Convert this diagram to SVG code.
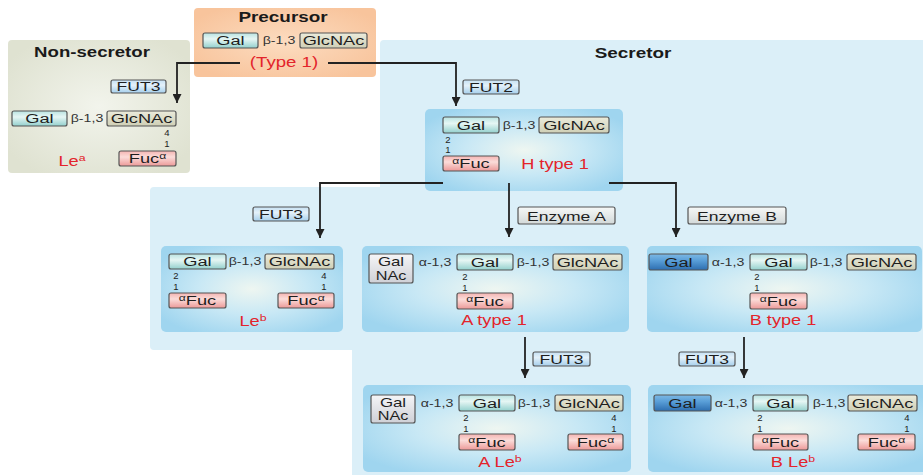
<svg xmlns="http://www.w3.org/2000/svg" width="923" height="475" viewBox="0 0 923 475">
<style>
text{font-family:"Liberation Sans",Arial,Helvetica,sans-serif}
.sn{font-size:13.5px;fill:#1e1e1e;text-anchor:middle}
.nc{font-size:12.5px;fill:#1e1e1e;text-anchor:middle}
.ln{font-size:10.5px;fill:#333;text-anchor:middle}
.num{font-size:9.5px;fill:#222;text-anchor:middle}
.red{font-size:14px;fill:#e3242b;text-anchor:middle}
.ttl{font-size:14px;font-weight:bold;fill:#1a1a1a;text-anchor:middle}
.box{stroke:#555;stroke-width:1.2}
.gal{fill:url(#gGal)}
.glc{fill:url(#gGlc)}
.fuc{fill:url(#gFuc)}
.fut{fill:url(#gFut)}
.enz{fill:url(#gEnz)}
.nac{fill:url(#gNac)}
.dk{fill:url(#gDark)}
.inner{fill:url(#gInner)}
.conn{fill:none;stroke:#222;stroke-width:1.8}
</style>
<defs>
<linearGradient id="gGal" x1="0" y1="0" x2="0" y2="1"><stop offset="0" stop-color="#b9e3e1"/><stop offset="0.4" stop-color="#e6f6f4"/><stop offset="1" stop-color="#93d0cd"/></linearGradient>
<linearGradient id="gGlc" x1="0" y1="0" x2="0" y2="1"><stop offset="0" stop-color="#ebebdb"/><stop offset="1" stop-color="#cfcfb6"/></linearGradient>
<linearGradient id="gFuc" x1="0" y1="0" x2="0" y2="1"><stop offset="0" stop-color="#f4b4b2"/><stop offset="0.4" stop-color="#fbdcd9"/><stop offset="1" stop-color="#ec9998"/></linearGradient>
<linearGradient id="gFut" x1="0" y1="0" x2="0" y2="1"><stop offset="0" stop-color="#c5e0f3"/><stop offset="0.4" stop-color="#e4f1fa"/><stop offset="1" stop-color="#a6cfec"/></linearGradient>
<linearGradient id="gEnz" x1="0" y1="0" x2="0" y2="1"><stop offset="0" stop-color="#f6f8f7"/><stop offset="1" stop-color="#d3d9d9"/></linearGradient>
<linearGradient id="gNac" x1="0" y1="0" x2="0" y2="1"><stop offset="0" stop-color="#f5f5f7"/><stop offset="1" stop-color="#cfd0d6"/></linearGradient>
<linearGradient id="gDark" x1="0" y1="0" x2="0" y2="1"><stop offset="0" stop-color="#7cb8e4"/><stop offset="0.4" stop-color="#5a9fd8"/><stop offset="1" stop-color="#2d6eb0"/></linearGradient>
<radialGradient id="gInner" cx="0.5" cy="0.5" r="0.6"><stop offset="0" stop-color="#eef6f1"/><stop offset="0.5" stop-color="#c8e8f5"/><stop offset="1" stop-color="#9fd5ef"/></radialGradient>
<radialGradient id="gNon" cx="0.5" cy="0.5" r="0.6"><stop offset="0" stop-color="#f2f4ec"/><stop offset="1" stop-color="#dfe2d1"/></radialGradient>
<radialGradient id="gPre" cx="0.5" cy="0.5" r="0.6"><stop offset="0" stop-color="#fcdcc0"/><stop offset="1" stop-color="#f8c49c"/></radialGradient>
<marker id="ah" viewBox="0 0 10 10" refX="10" refY="5" markerWidth="9" markerHeight="9" markerUnits="userSpaceOnUse" orient="auto"><path d="M0,0 L10,5 L0,10 z" fill="#222"/></marker>
</defs>

<g id="backgrounds">
<rect x="8" y="40" width="182" height="133" rx="4" fill="url(#gNon)"/>
<path d="M384,40 H923 V475 H352 V350 H154 Q150,350 150,346 V191 Q150,187 154,187 H380 V44 Q380,40 384,40 Z" fill="#dbeff8"/>
<rect x="194" y="8" width="182" height="69" rx="4" fill="url(#gPre)"/>
</g>

<g id="precursor">
<text class="ttl" transform="translate(283,22) scale(1.35,1)">Precursor</text>
<rect class="box gal" x="203" y="33" width="55" height="15" rx="2"/>
<text class="sn" transform="translate(230.5,45) scale(1.35,1)">Gal</text>
<text class="ln" transform="translate(279,44) scale(1.35,1)">β-1,3</text>
<rect class="box glc" x="300" y="33" width="67" height="15" rx="2"/>
<text class="sn" transform="translate(333.5,45) scale(1.35,1)">GlcNAc</text>
<text class="red" transform="translate(284,67) scale(1.33,1)">(Type 1)</text>
</g>

<g id="non-secretor">
<text class="ttl" transform="translate(92,57) scale(1.33,1)">Non-secretor</text>
<rect class="box gal" x="12" y="111" width="55" height="15" rx="2"/>
<text class="sn" transform="translate(39.5,123) scale(1.35,1)">Gal</text>
<text class="ln" transform="translate(87,122) scale(1.35,1)">β-1,3</text>
<rect class="box glc" x="107" y="111" width="69" height="15" rx="2"/>
<text class="sn" transform="translate(141.5,123) scale(1.35,1)">GlcNAc</text>
<text class="num" x="167" y="136">4</text>
<text class="num" x="167" y="146.5">1</text>
<rect class="box fuc" x="119" y="151" width="57" height="15" rx="2"/>
<text class="sn" transform="translate(147.5,163) scale(1.35,1)">Fuc<tspan font-size="9" dy="-4">α</tspan></text>
<text class="red" transform="translate(72,166) scale(1.3,1)">Le<tspan font-size="9.5" dy="-5">a</tspan></text>
</g>

<g id="secretor-label">
<text class="ttl" transform="translate(633,58) scale(1.35,1)">Secretor</text>
</g>

<g id="enz-fut3-non">
<rect class="box fut" x="111" y="80" width="55" height="13" rx="2"/>
<text class="sn" transform="translate(138.5,91) scale(1.3,1)" font-size="13">FUT3</text>
</g>
<g id="enz-fut2">
<rect class="box fut" x="463" y="80" width="56" height="14" rx="2"/>
<text class="sn" transform="translate(491,92) scale(1.3,1)" font-size="13">FUT2</text>
</g>
<g id="enz-fut3-leb">
<rect class="box fut" x="253" y="207" width="56" height="14" rx="2"/>
<text class="sn" transform="translate(281,219) scale(1.3,1)" font-size="13">FUT3</text>
</g>
<g id="enz-a">
<rect class="box enz" x="518" y="207" width="97" height="17" rx="2"/>
<text class="sn" transform="translate(566.5,220.5) scale(1.3,1)">Enzyme A</text>
</g>
<g id="enz-b">
<rect class="box enz" x="688" y="207" width="98" height="17" rx="2"/>
<text class="sn" transform="translate(737,220.5) scale(1.3,1)">Enzyme B</text>
</g>
<g id="enz-fut3-a">
<rect class="box fut" x="533" y="352" width="57" height="14" rx="2"/>
<text class="sn" transform="translate(561.5,364) scale(1.3,1)" font-size="13">FUT3</text>
</g>
<g id="enz-fut3-b">
<rect class="box fut" x="679" y="352" width="56" height="14" rx="2"/>
<text class="sn" transform="translate(707,364) scale(1.3,1)" font-size="13">FUT3</text>
</g>

<g id="h-type1">
<rect class="inner" x="425" y="109" width="198" height="82" rx="5"/>
<rect class="box gal" x="443" y="117" width="56" height="16" rx="2"/>
<text class="sn" transform="translate(471,130) scale(1.35,1)">Gal</text>
<text class="ln" transform="translate(519,129) scale(1.35,1)">β-1,3</text>
<rect class="box glc" x="539" y="117" width="70" height="16" rx="2"/>
<text class="sn" transform="translate(574,130) scale(1.35,1)">GlcNAc</text>
<text class="num" x="448" y="142.5">2</text>
<text class="num" x="448" y="153">1</text>
<rect class="box fuc" x="443" y="156" width="56" height="15" rx="2"/>
<text class="sn" transform="translate(471,168) scale(1.35,1)"><tspan font-size="9" dy="-4">α</tspan><tspan dy="4">Fuc</tspan></text>
<text class="red" transform="translate(555,169) scale(1.3,1)">H type 1</text>
</g>

<g id="le-b">
<rect class="inner" x="161" y="246" width="182" height="86" rx="5"/>
<rect class="box gal" x="169" y="254" width="57" height="15" rx="2"/>
<text class="sn" transform="translate(197.5,266) scale(1.35,1)">Gal</text>
<text class="ln" transform="translate(245,265) scale(1.35,1)">β-1,3</text>
<rect class="box glc" x="265" y="254" width="69" height="15" rx="2"/>
<text class="sn" transform="translate(299.5,266) scale(1.35,1)">GlcNAc</text>
<text class="num" x="176" y="279">2</text>
<text class="num" x="176" y="289.5">1</text>
<text class="num" x="324" y="279">4</text>
<text class="num" x="324" y="289.5">1</text>
<rect class="box fuc" x="169" y="293" width="57" height="15" rx="2"/>
<text class="sn" transform="translate(197.5,305) scale(1.35,1)"><tspan font-size="9" dy="-4">α</tspan><tspan dy="4">Fuc</tspan></text>
<rect class="box fuc" x="278" y="293" width="56" height="15" rx="2"/>
<text class="sn" transform="translate(306,305) scale(1.35,1)">Fuc<tspan font-size="9" dy="-4">α</tspan></text>
<text class="red" transform="translate(253,326) scale(1.3,1)">Le<tspan font-size="9.5" dy="-5">b</tspan></text>
</g>

<g id="a-type1">
<rect class="inner" x="362" y="246" width="267" height="86" rx="5"/>
<rect class="box nac" x="369" y="254" width="44" height="29" rx="2"/>
<text class="nc" transform="translate(391,266) scale(1.35,1)">Gal</text>
<text class="nc" transform="translate(391,279.5) scale(1.3,1)">NAc</text>
<text class="ln" transform="translate(435,266) scale(1.35,1)">α-1,3</text>
<rect class="box gal" x="457" y="254" width="56" height="16" rx="2"/>
<text class="sn" transform="translate(485,267) scale(1.35,1)">Gal</text>
<text class="ln" transform="translate(533,266) scale(1.35,1)">β-1,3</text>
<rect class="box glc" x="553" y="254" width="69" height="16" rx="2"/>
<text class="sn" transform="translate(587.5,267) scale(1.35,1)">GlcNAc</text>
<text class="num" x="465" y="280">2</text>
<text class="num" x="465" y="290.5">1</text>
<rect class="box fuc" x="457" y="293" width="56" height="16" rx="2"/>
<text class="sn" transform="translate(485,306) scale(1.35,1)"><tspan font-size="9" dy="-4">α</tspan><tspan dy="4">Fuc</tspan></text>
<text class="red" transform="translate(494,325) scale(1.3,1)">A type 1</text>
</g>

<g id="b-type1">
<rect class="inner" x="647" y="246" width="275" height="86" rx="5"/>
<rect class="box dk" x="649" y="254" width="59" height="16" rx="2"/>
<text class="sn" transform="translate(678.5,267) scale(1.35,1)">Gal</text>
<text class="ln" transform="translate(728,266) scale(1.35,1)">α-1,3</text>
<rect class="box gal" x="750" y="254" width="57" height="16" rx="2"/>
<text class="sn" transform="translate(778.5,267) scale(1.35,1)">Gal</text>
<text class="ln" transform="translate(826,266) scale(1.35,1)">β-1,3</text>
<rect class="box glc" x="847" y="254" width="69" height="16" rx="2"/>
<text class="sn" transform="translate(881.5,267) scale(1.35,1)">GlcNAc</text>
<text class="num" x="757" y="280">2</text>
<text class="num" x="757" y="290.5">1</text>
<rect class="box fuc" x="750" y="293" width="57" height="16" rx="2"/>
<text class="sn" transform="translate(778.5,306) scale(1.35,1)"><tspan font-size="9" dy="-4">α</tspan><tspan dy="4">Fuc</tspan></text>
<text class="red" transform="translate(783,325) scale(1.3,1)">B type 1</text>
</g>

<g id="a-le-b">
<rect class="inner" x="363" y="385" width="268" height="87" rx="5"/>
<rect class="box nac" x="371" y="395" width="44" height="28" rx="2"/>
<text class="nc" transform="translate(393,406.5) scale(1.35,1)">Gal</text>
<text class="nc" transform="translate(393,420) scale(1.3,1)">NAc</text>
<text class="ln" transform="translate(437,407) scale(1.35,1)">α-1,3</text>
<rect class="box gal" x="459" y="395" width="56" height="16" rx="2"/>
<text class="sn" transform="translate(487,408) scale(1.35,1)">Gal</text>
<text class="ln" transform="translate(534,407) scale(1.35,1)">β-1,3</text>
<rect class="box glc" x="555" y="395" width="68" height="16" rx="2"/>
<text class="sn" transform="translate(589,408) scale(1.35,1)">GlcNAc</text>
<text class="num" x="466" y="421">2</text>
<text class="num" x="466" y="431.5">1</text>
<text class="num" x="614" y="421">4</text>
<text class="num" x="614" y="431.5">1</text>
<rect class="box fuc" x="459" y="434" width="56" height="16" rx="2"/>
<text class="sn" transform="translate(487,447) scale(1.35,1)"><tspan font-size="9" dy="-4">α</tspan><tspan dy="4">Fuc</tspan></text>
<rect class="box fuc" x="568" y="434" width="55" height="16" rx="2"/>
<text class="sn" transform="translate(595.5,447) scale(1.35,1)">Fuc<tspan font-size="9" dy="-4">α</tspan></text>
<text class="red" transform="translate(500,467) scale(1.3,1)">A Le<tspan font-size="9.5" dy="-5">b</tspan></text>
</g>

<g id="b-le-b">
<rect class="inner" x="648" y="385" width="280" height="87" rx="5"/>
<rect class="box dk" x="654" y="395" width="57" height="16" rx="2"/>
<text class="sn" transform="translate(682.5,408) scale(1.35,1)">Gal</text>
<text class="ln" transform="translate(731,407) scale(1.35,1)">α-1,3</text>
<rect class="box gal" x="753" y="395" width="55" height="16" rx="2"/>
<text class="sn" transform="translate(780.5,408) scale(1.35,1)">Gal</text>
<text class="ln" transform="translate(829,407) scale(1.35,1)">β-1,3</text>
<rect class="box glc" x="848" y="395" width="69" height="16" rx="2"/>
<text class="sn" transform="translate(882.5,408) scale(1.35,1)">GlcNAc</text>
<text class="num" x="760" y="421">2</text>
<text class="num" x="760" y="431.5">1</text>
<text class="num" x="907" y="421">4</text>
<text class="num" x="907" y="431.5">1</text>
<rect class="box fuc" x="753" y="434" width="55" height="16" rx="2"/>
<text class="sn" transform="translate(780.5,447) scale(1.35,1)"><tspan font-size="9" dy="-4">α</tspan><tspan dy="4">Fuc</tspan></text>
<rect class="box fuc" x="858" y="434" width="57" height="16" rx="2"/>
<text class="sn" transform="translate(886.5,447) scale(1.35,1)">Fuc<tspan font-size="9" dy="-4">α</tspan></text>
<text class="red" transform="translate(793,467) scale(1.3,1)">B Le<tspan font-size="9.5" dy="-5">b</tspan></text>
</g>

<g id="connectors">
<path class="conn" d="M240,63 H177 V103" marker-end="url(#ah)"/>
<path class="conn" d="M328,63 H456 V106" marker-end="url(#ah)"/>
<path class="conn" d="M443,183 H320 V238" marker-end="url(#ah)"/>
<path class="conn" d="M509,183 V237" marker-end="url(#ah)"/>
<path class="conn" d="M609,183 H676 V237" marker-end="url(#ah)"/>
<path class="conn" d="M525,337 V378" marker-end="url(#ah)"/>
<path class="conn" d="M744,337 V378" marker-end="url(#ah)"/>
</g>
</svg>
